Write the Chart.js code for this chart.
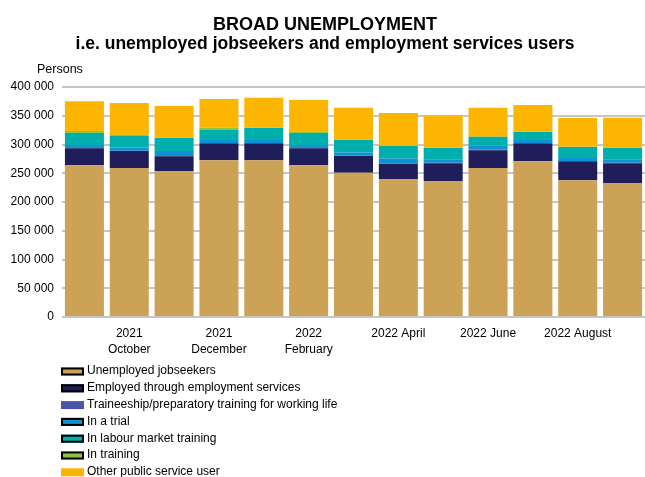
<!DOCTYPE html>
<html>
<head>
<meta charset="utf-8">
<script src="https://cdn.jsdelivr.net/npm/chart.js@4.4.1/dist/chart.umd.min.js"></script>
<style>
body{margin:0;background:#fff}
</style>
</head>
<body>
<canvas id="myChart" width="645" height="477"></canvas>
<script>
var months = ['2021-09','2021-10','2021-11','2021-12','2022-01','2022-02','2022-03','2022-04','2022-05','2022-06','2022-07','2022-08','2022-09']
var xTickLabels = ['', ['2021','October'], '', ['2021','December'], '', ['2022','February'], '', '2022 April', '', '2022 June', '', '2022 August', '']
var yTicks = [0, 50000, 100000, 150000, 200000, 250000, 300000, 350000, 400000]

var unemployed  = [264000, 259000, 253700, 272800, 272800, 264000, 250700, 240000, 236400, 259000, 271000, 238000, 233000]
var employed    = [29500, 29500, 26000, 29500, 29500, 29500, 29500, 26400, 31200, 31200, 31200, 33000, 34600]
var traineeship = [500, 500, 500, 500, 500, 500, 500, 500, 500, 500, 500, 500, 500]
var trial       = [5200, 5700, 8700, 5200, 5200, 5200, 5200, 8700, 5200, 7000, 5200, 5200, 5200]
var labour      = [20800, 20300, 22600, 17300, 20900, 20800, 22100, 22000, 20800, 15600, 13800, 19000, 20800]
var training    = [3400, 1700, 500, 4000, 500, 1700, 300, 500, 300, 300, 300, 500, 300]
var other       = [52000, 55500, 55000, 49700, 51800, 55500, 55400, 56600, 56000, 50200, 46800, 50000, 52000]

var FONT = '"Liberation Sans", Arial, sans-serif'

function fmt(v){
    return String(v).replace(/\B(?=(\d{3})+(?!\d))/g, ' ')
}

// titles, "Persons" and the legend list drawn straight on the canvas
const extras = {
    id: 'extras',
    afterDraw(chart){
        const ctx = chart.ctx
        ctx.save()
        ctx.fillStyle = '#000'
        ctx.textAlign = 'center'
        ctx.textBaseline = 'alphabetic'
        ctx.font = 'bold 18px ' + FONT
        ctx.fillText('BROAD UNEMPLOYMENT', 325, 30)
        ctx.font = 'bold 17.5px ' + FONT
        ctx.fillText('i.e. unemployed jobseekers and employment services users', 325, 48.5)
        ctx.textAlign = 'left'
        ctx.font = '12.5px ' + FONT
        ctx.fillText('Persons', 37, 73)

        ctx.font = '12px ' + FONT
        ctx.textBaseline = 'middle'
        chart.data.datasets.forEach(function(ds, i){
            const y = 371 + i * 16.8
            ctx.fillStyle = ds.backgroundColor
            ctx.fillRect(61, y - 3.5, 23, 8)
            if(ds.boxBorder){
                ctx.strokeStyle = '#000'
                ctx.lineWidth = 2
                ctx.strokeRect(62, y - 2.5, 21, 6)
            }
            ctx.fillStyle = '#000'
            ctx.fillText(ds.label, 87, y)
        })
        ctx.restore()
    }
}

const ctx = document.getElementById('myChart')
new Chart(ctx, {
    type: 'bar',
    data: {
        labels: months,
        datasets: [
            {label: 'Unemployed jobseekers', data: unemployed, backgroundColor: '#cca257', boxBorder: true},
            {label: 'Employed through employment services', data: employed, backgroundColor: '#1f1e5b', boxBorder: true},
            {label: 'Traineeship/preparatory training for working life', data: traineeship, backgroundColor: '#4b55a8', boxBorder: false},
            {label: 'In a trial', data: trial, backgroundColor: '#0b93d6', boxBorder: true},
            {label: 'In labour market training', data: labour, backgroundColor: '#00aeac', boxBorder: true},
            {label: 'In training', data: training, backgroundColor: '#8dc641', boxBorder: true},
            {label: 'Other public service user', data: other, backgroundColor: '#fcb500', boxBorder: false}
        ]
    },
    options: {
        responsive: false,
        animation: false,
        layout: {padding: {left: 10, right: 0, top: 87, bottom: 112}},
        datasets: {bar: {barPercentage: 0.87, categoryPercentage: 1, borderWidth: 0}},
        scales: {
            x: {
                stacked: true,
                grid: {display: false, drawTicks: false},
                border: {display: false},
                afterFit: function(scale){ scale.height = 48 },
                ticks: {
                    autoSkip: false,
                    maxRotation: 0,
                    padding: 8,
                    color: '#000',
                    font: {family: FONT, size: 12, lineHeight: 1.37},
                    callback: function(v, i){ return xTickLabels[i] }
                }
            },
            y: {
                stacked: true,
                min: yTicks[0],
                max: yTicks[yTicks.length - 1],
                afterFit: function(scale){ scale.width = 52 },
                afterBuildTicks: function(scale){ scale.ticks = yTicks.map(function(v){ return {value: v} }) },
                grid: {color: '#c6c6c6', lineWidth: 2, drawTicks: false},
                border: {display: false},
                ticks: {
                    padding: 8,
                    color: '#000',
                    font: {family: FONT, size: 12},
                    callback: function(v){ return fmt(v) }
                }
            }
        },
        plugins: {
            legend: {display: false},
            title: {display: false},
            tooltip: {enabled: false}
        }
    },
    plugins: [extras]
})
</script>
</body>
</html>
